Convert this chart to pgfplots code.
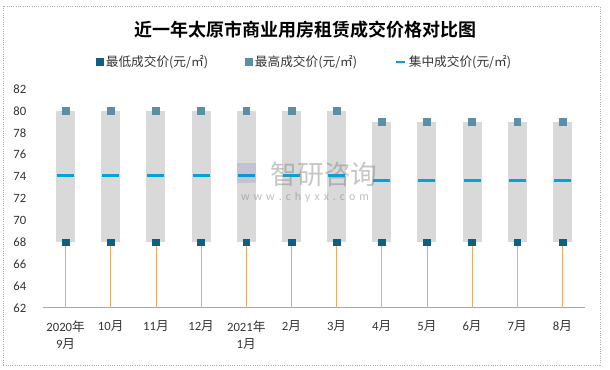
\documentclass[border=0pt]{standalone}
\usepackage{fontspec}
\setmainfont{Carlito}
\newfontfamily\cjk{Noto Sans CJK SC}
\newfontfamily\cjkb{Noto Sans CJK SC Bold}
\newcommand\zh[1]{{\cjk #1}}
\usepackage{pgfplots}
\pgfplotsset{compat=1.18}
\definecolor{minC}{HTML}{0E5F80}
\definecolor{maxC}{HTML}{5A8FA8}
\definecolor{midC}{HTML}{00A3DE}
\definecolor{barC}{HTML}{D9D9D9}
\definecolor{dropC}{HTML}{F0A868}
\definecolor{txtC}{HTML}{333333}
\begin{document}
\begin{tikzpicture}
\useasboundingbox (0,0) rectangle (457.5pt,277.5pt);
\draw[gray!65, line width=0.7pt, densely dotted] (2.25pt,3.75pt) rectangle (450pt,273pt);
\node[font=\cjkb\fontsize{13.5pt}{15pt}\selectfont, text=black] at (228.75pt,255pt) {近一年太原市商业用房租赁成交价格对比图};
\begin{axis}[
  at={(32.25pt,46.5pt)}, anchor=south west,
  scale only axis, width=406.5pt, height=164.25pt,
  xmin=-0.5, xmax=11.5, ymin=62, ymax=82,
  ytick={62,64,...,82},
  xtick={0,...,11},
  xticklabels={{2020\zh{年}\\9\zh{月}},{10\zh{月}},{11\zh{月}},{12\zh{月}},{2021\zh{年}\\1\zh{月}},{2\zh{月}},{3\zh{月}},{4\zh{月}},{5\zh{月}},{6\zh{月}},{7\zh{月}},{8\zh{月}}},
  /pgf/number format/assume math mode=true,
  major tick length=0pt,
  axis x line*=bottom, axis y line*=left,
  x axis line style={-, draw=gray!70, line width=0.75pt},
  y axis line style={draw=none},
  ticklabel style={font=\fontsize{9.5pt}{13pt}\selectfont, text=txtC},
  xticklabel style={align=center, yshift=-6pt},
  yticklabel style={xshift=-9pt},
  legend columns=3,
  legend style={at={(0.4834,1.1233)}, anchor=center, draw=none, fill=none,
    font=\cjk\fontsize{9.5pt}{11pt}\selectfont, text=txtC,
    /tikz/every even column/.append style={column sep=26pt}},
  legend cell align=left,
]
% gray range bars
\addplot[only marks, mark=none, forget plot,
  error bars/.cd, y dir=plus, y explicit, error mark=none,
  error bar style={draw=barC, line width=14.25pt}]
coordinates {
(0,68) +- (0,12) (1,68) +- (0,12) (2,68) +- (0,12) (3,68) +- (0,12)
(4,68) +- (0,12) (5,68) +- (0,12) (6,68) +- (0,12)
(7,68) +- (0,11) (8,68) +- (0,11) (9,68) +- (0,11) (10,68) +- (0,11) (11,68) +- (0,11)
};
% drop lines
\addplot[ycomb, dropC, line width=0.6pt, mark=none, forget plot]
coordinates {(0,68)(1,68)(2,68)(3,68)(4,68)(5,68)(6,68)(7,68)(8,68)(9,68)(10,68)(11,68)};
% min
\addplot[only marks, mark=square*, mark size=2.6pt, mark options={draw=minC, fill=minC}]
coordinates {(0,68)(1,68)(2,68)(3,68)(4,68)(5,68)(6,68)(7,68)(8,68)(9,68)(10,68)(11,68)};
\addlegendentry{最低成交价(元/㎡)}
% max
\addplot[only marks, mark=square*, mark size=2.6pt, mark options={draw=maxC, fill=maxC}]
coordinates {(0,80)(1,80)(2,80)(3,80)(4,80)(5,80)(6,80)(7,79)(8,79)(9,79)(10,79)(11,79)};
\addlegendentry{最高成交价(元/㎡)}
% central
\addplot[only marks, mark=-, mark size=6.4pt, mark options={draw=midC, line width=2.25pt},
  legend image code/.code={\draw[midC, line width=1.8pt] (0pt,0pt)--(7pt,0pt);}]
coordinates {(0,74.1)(1,74.1)(2,74.1)(3,74.1)(4,74.1)(5,74.1)(6,74.1)(7,73.6)(8,73.6)(9,73.6)(10,73.6)(11,73.6)};
\addlegendentry{集中成交价(元/㎡)}
\end{axis}
% watermark
\node[font=\cjk\fontsize{20pt}{22pt}\selectfont, text=gray, opacity=0.45] at (243pt,147pt) {智研咨询};
\node[font=\fontsize{9pt}{10pt}\selectfont, text=gray, opacity=0.5] at (228.75pt,129.5pt) {w\,\,w\,\,w\,\,.\,\,c\,\,h\,\,y\,\,x\,\,x\,\,.\,\,c\,\,o\,\,m};
\fill[blue!40!gray, opacity=0.15] (178pt,140pt) rectangle (192pt,155pt);
\end{tikzpicture}
\end{document}
